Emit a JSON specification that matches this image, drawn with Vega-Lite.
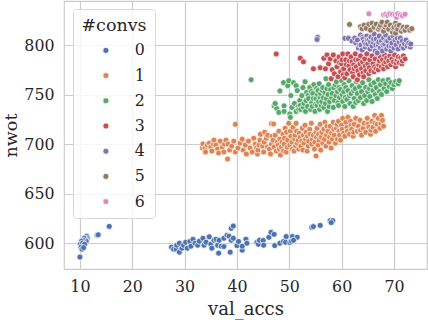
{"$schema":"https://vega.github.io/schema/vega-lite/v6.json","width":363,"height":268,"autosize":"none","padding":{"left":64,"top":1,"right":1,"bottom":51},"background":"white",
"config":{"font":"DejaVu Serif","view":{"stroke":"#cccccc","strokeWidth":1.2}},
"data":{"values":[
{"x":10,"y":586,"c":0},{"x":13.3,"y":608,"c":0},{"x":13.5,"y":608.5,"c":0},{"x":15.6,"y":617,"c":0},{"x":11.3,"y":607,"c":0},{"x":11.4,"y":605,"c":0},{"x":11.1,"y":604,"c":0},{"x":10.8,"y":605,"c":0},{"x":11.2,"y":602,"c":0},{"x":10.6,"y":603,"c":0},{"x":10.3,"y":602,"c":0},{"x":10.1,"y":599,"c":0},{"x":10.5,"y":600,"c":0},{"x":10.9,"y":599,"c":0},{"x":10.2,"y":596,"c":0},{"x":10.4,"y":594,"c":0},{"x":10.7,"y":595.5,"c":0},
{"x":27.5,"y":596,"c":0},{"x":27.9,"y":594,"c":0},{"x":28.4,"y":594,"c":0},{"x":28.5,"y":598,"c":0},{"x":29,"y":600,"c":0},{"x":29,"y":591,"c":0},{"x":29.5,"y":595,"c":0},{"x":29.8,"y":598,"c":0},{"x":30.2,"y":601,"c":0},{"x":30.5,"y":595,"c":0},{"x":31,"y":601.7,"c":0},{"x":31.2,"y":597,"c":0},{"x":31.6,"y":604,"c":0},{"x":32,"y":600,"c":0},{"x":32.5,"y":598,"c":0},{"x":32.8,"y":602,"c":0},{"x":33.5,"y":605,"c":0},{"x":33.7,"y":598,"c":0},{"x":34.1,"y":601,"c":0},{"x":34.7,"y":606.5,"c":0},{"x":35,"y":599,"c":0},{"x":35.2,"y":595,"c":0},{"x":35.6,"y":603,"c":0},{"x":36,"y":604,"c":0},{"x":36.3,"y":598,"c":0},{"x":36.5,"y":590,"c":0},{"x":36.6,"y":603,"c":0},{"x":37,"y":597,"c":0},{"x":37.5,"y":605,"c":0},{"x":37.5,"y":596.6,"c":0},{"x":38.1,"y":608,"c":0},{"x":38.5,"y":607,"c":0},{"x":38.7,"y":591,"c":0},{"x":38.9,"y":603,"c":0},{"x":38.9,"y":615,"c":0},{"x":39.3,"y":617.4,"c":0},{"x":39.3,"y":605,"c":0},{"x":40,"y":597.6,"c":0},{"x":40.3,"y":601.7,"c":0},{"x":41,"y":593,"c":0},{"x":41,"y":597,"c":0},{"x":41.7,"y":604,"c":0},{"x":41.9,"y":600,"c":0},{"x":43.8,"y":600.7,"c":0},{"x":44.1,"y":599,"c":0},{"x":44.3,"y":603,"c":0},{"x":45,"y":602.7,"c":0},{"x":45.1,"y":598,"c":0},{"x":46.1,"y":606,"c":0},{"x":46.5,"y":611,"c":0},{"x":47.1,"y":609,"c":0},{"x":47.2,"y":597.6,"c":0},{"x":48.2,"y":600,"c":0},{"x":48.9,"y":601.7,"c":0},{"x":49.4,"y":606.7,"c":0},{"x":49.3,"y":601,"c":0},{"x":50.1,"y":600.7,"c":0},{"x":50.6,"y":606.7,"c":0},{"x":50.4,"y":602,"c":0},{"x":51.5,"y":606,"c":0},{"x":50.8,"y":603,"c":0},{"x":54.3,"y":616,"c":0},{"x":54.6,"y":616.8,"c":0},{"x":55.9,"y":618,"c":0},{"x":57.8,"y":622.8,"c":0},{"x":58.3,"y":622.8,"c":0},{"x":58,"y":620.8,"c":0},
{"x":39.7,"y":720,"c":1},{"x":46.6,"y":720.5,"c":1},{"x":47,"y":720.3,"c":1},{"x":38.2,"y":685,"c":1},{"x":55.1,"y":688,"c":1},
{"x":33.4,"y":696,"c":1},{"x":33.5,"y":700,"c":1},{"x":33.9,"y":696,"c":1},{"x":34,"y":692,"c":1},{"x":34.3,"y":699,"c":1},{"x":34.7,"y":701,"c":1},{"x":35,"y":697,"c":1},{"x":35.2,"y":693,"c":1},{"x":35.5,"y":700,"c":1},{"x":35.6,"y":704,"c":1},{"x":36,"y":699,"c":1},{"x":36.3,"y":695,"c":1},{"x":36.5,"y":691,"c":1},{"x":36.8,"y":703,"c":1},{"x":37.2,"y":697,"c":1},{"x":37.5,"y":692,"c":1},{"x":37.6,"y":700,"c":1},{"x":37.9,"y":704,"c":1},{"x":38.3,"y":700,"c":1},{"x":38.6,"y":694,"c":1},{"x":39,"y":698,"c":1},{"x":39.4,"y":703,"c":1},{"x":39.7,"y":692,"c":1},{"x":40.2,"y":696,"c":1},{"x":40.6,"y":701,"c":1},{"x":41,"y":705,"c":1},{"x":41.2,"y":694,"c":1},{"x":41.6,"y":699,"c":1},{"x":41.8,"y":690,"c":1},{"x":42.2,"y":703,"c":1},{"x":42.5,"y":696,"c":1},{"x":42.9,"y":692,"c":1},{"x":43.2,"y":706,"c":1},{"x":43.5,"y":700,"c":1},{"x":43.7,"y":696,"c":1},{"x":43.9,"y":690,"c":1},{"x":44,"y":694,"c":1},{"x":44.2,"y":699,"c":1},{"x":44.4,"y":704,"c":1},{"x":44.5,"y":710,"c":1},{"x":44.9,"y":698,"c":1},{"x":45.1,"y":692,"c":1},{"x":45.2,"y":702,"c":1},{"x":45.3,"y":712,"c":1},{"x":45.6,"y":706,"c":1},{"x":45.8,"y":697,"c":1},{"x":45.9,"y":709,"c":1},{"x":46.2,"y":695,"c":1},{"x":46.4,"y":690,"c":1},{"x":46.6,"y":700,"c":1},{"x":46.7,"y":708,"c":1},{"x":46.9,"y":704,"c":1},{"x":47.1,"y":697,"c":1},{"x":47.3,"y":709,"c":1},{"x":47.5,"y":693,"c":1},{"x":47.7,"y":702,"c":1},{"x":47.9,"y":699,"c":1},{"x":48,"y":713,"c":1},{"x":48.1,"y":695,"c":1},{"x":48.2,"y":705,"c":1},{"x":48.3,"y":689,"c":1},{"x":48.5,"y":697,"c":1},{"x":48.6,"y":702,"c":1},{"x":48.8,"y":710,"c":1},{"x":48.9,"y":693,"c":1},{"x":49,"y":700,"c":1},{"x":49.1,"y":706,"c":1},{"x":49.2,"y":716,"c":1},{"x":49.4,"y":692,"c":1},{"x":49.5,"y":712,"c":1},{"x":49.6,"y":697,"c":1},{"x":49.7,"y":704,"c":1},{"x":49.9,"y":721,"c":1},{"x":50.1,"y":699,"c":1},{"x":50.2,"y":713,"c":1},{"x":50.3,"y":708,"c":1},{"x":50.5,"y":702,"c":1},{"x":50.6,"y":695,"c":1},{"x":50.7,"y":717,"c":1},{"x":50.9,"y":693,"c":1},{"x":51,"y":705,"c":1},{"x":51.1,"y":709,"c":1},{"x":51.2,"y":698,"c":1},{"x":51.3,"y":721,"c":1},{"x":51.4,"y":713,"c":1},{"x":51.5,"y":701,"c":1},{"x":51.7,"y":704,"c":1},{"x":51.8,"y":695,"c":1},{"x":51.9,"y":711,"c":1},{"x":52.1,"y":707,"c":1},{"x":52.2,"y":698,"c":1},{"x":52.4,"y":703,"c":1},{"x":52.5,"y":716,"c":1},{"x":52.6,"y":694,"c":1},{"x":52.7,"y":709,"c":1},{"x":52.8,"y":701,"c":1},{"x":53,"y":719,"c":1},{"x":53.1,"y":705,"c":1},{"x":53.2,"y":712,"c":1},{"x":53.4,"y":693,"c":1},{"x":53.5,"y":708,"c":1},{"x":53.6,"y":698,"c":1},{"x":53.7,"y":703,"c":1},{"x":53.9,"y":715,"c":1},{"x":54,"y":710,"c":1},{"x":54.2,"y":721,"c":1},{"x":54.3,"y":700,"c":1},{"x":54.4,"y":705,"c":1},{"x":54.6,"y":709,"c":1},{"x":54.8,"y":695,"c":1},{"x":54.9,"y":702,"c":1},{"x":55.1,"y":712,"c":1},{"x":55.2,"y":707,"c":1},{"x":55.3,"y":716,"c":1},{"x":55.5,"y":699,"c":1},{"x":55.6,"y":710,"c":1},{"x":55.7,"y":704,"c":1},{"x":55.9,"y":720,"c":1},{"x":56,"y":694,"c":1},{"x":56.1,"y":707,"c":1},{"x":56.2,"y":712,"c":1},{"x":56.4,"y":701,"c":1},{"x":56.6,"y":715,"c":1},{"x":56.7,"y":705,"c":1},{"x":56.8,"y":722,"c":1},{"x":57,"y":698,"c":1},{"x":57.1,"y":709,"c":1},{"x":57.2,"y":718,"c":1},{"x":57.4,"y":713,"c":1},{"x":57.6,"y":702,"c":1},{"x":57.7,"y":707,"c":1},{"x":57.8,"y":718,"c":1},{"x":58,"y":696,"c":1},{"x":58.1,"y":711,"c":1},{"x":58.2,"y":705,"c":1},{"x":58.4,"y":722,"c":1},{"x":58.5,"y":715,"c":1},{"x":58.6,"y":709,"c":1},{"x":58.8,"y":701,"c":1},{"x":59,"y":716,"c":1},{"x":59.1,"y":720,"c":1},{"x":59.2,"y":705,"c":1},{"x":59.4,"y":723,"c":1},{"x":59.5,"y":713,"c":1},{"x":59.6,"y":709,"c":1},{"x":59.8,"y":704,"c":1},{"x":60,"y":719,"c":1},{"x":60.1,"y":715,"c":1},{"x":60.2,"y":726,"c":1},{"x":60.4,"y":711,"c":1},{"x":60.6,"y":708,"c":1},{"x":60.8,"y":722,"c":1},{"x":61,"y":717,"c":1},{"x":61.1,"y":713,"c":1},{"x":61.2,"y":727,"c":1},{"x":61.5,"y":710,"c":1},{"x":61.7,"y":723,"c":1},{"x":61.8,"y":719,"c":1},{"x":61.9,"y":715,"c":1},{"x":62.2,"y":708,"c":1},{"x":62.3,"y":712,"c":1},{"x":62.4,"y":720,"c":1},{"x":62.7,"y":726,"c":1},{"x":63,"y":713,"c":1},{"x":63.2,"y":718,"c":1},{"x":63.5,"y":724,"c":1},{"x":63.6,"y":714,"c":1},{"x":63.8,"y":709,"c":1},{"x":64.1,"y":716,"c":1},{"x":64.3,"y":721,"c":1},{"x":64.6,"y":712,"c":1},{"x":64.9,"y":726,"c":1},{"x":65,"y":720,"c":1},{"x":65.2,"y":717,"c":1},{"x":65.5,"y":710,"c":1},{"x":65.6,"y":714,"c":1},{"x":65.8,"y":723,"c":1},{"x":66,"y":717,"c":1},{"x":66.3,"y":729,"c":1},{"x":66.4,"y":721,"c":1},{"x":66.5,"y":713,"c":1},{"x":66.8,"y":720,"c":1},{"x":67,"y":726,"c":1},{"x":67.3,"y":716,"c":1},{"x":67.5,"y":721,"c":1},{"x":67.6,"y":729,"c":1},{"x":67.8,"y":724,"c":1},{"x":68,"y":718,"c":1},
{"x":42.7,"y":765,"c":2},{"x":47.1,"y":738.6,"c":2},{"x":47.6,"y":736,"c":2},{"x":47.3,"y":741,"c":2},{"x":48,"y":732,"c":2},{"x":48.2,"y":753.7,"c":2},{"x":48.9,"y":762,"c":2},{"x":49,"y":738.6,"c":2},{"x":49,"y":733,"c":2},{"x":49.7,"y":759,"c":2},{"x":49.9,"y":764,"c":2},{"x":50.1,"y":730.5,"c":2},{"x":50.2,"y":727,"c":2},{"x":50.3,"y":749,"c":2},{"x":50.5,"y":737,"c":2},{"x":50.8,"y":762,"c":2},{"x":51,"y":741,"c":2},{"x":51.3,"y":759,"c":2},{"x":51.3,"y":733,"c":2},{"x":51.5,"y":754,"c":2},{"x":51.7,"y":738,"c":2},{"x":51.8,"y":735,"c":2},{"x":52,"y":744,"c":2},{"x":52.1,"y":739,"c":2},{"x":52.2,"y":735,"c":2},{"x":52.4,"y":749,"c":2},{"x":52.6,"y":757,"c":2},{"x":52.7,"y":737,"c":2},{"x":52.8,"y":741,"c":2},{"x":53,"y":763,"c":2},{"x":53.1,"y":733,"c":2},{"x":53.2,"y":744,"c":2},{"x":53.3,"y":752,"c":2},{"x":53.5,"y":738,"c":2},{"x":53.6,"y":749,"c":2},{"x":53.7,"y":746,"c":2},{"x":53.9,"y":757,"c":2},{"x":54.1,"y":735,"c":2},{"x":54.2,"y":753,"c":2},{"x":54.3,"y":742,"c":2},{"x":54.4,"y":738,"c":2},{"x":54.5,"y":751,"c":2},{"x":54.6,"y":746,"c":2},{"x":54.7,"y":760,"c":2},{"x":54.9,"y":733,"c":2},{"x":55,"y":740,"c":2},{"x":55.1,"y":746,"c":2},{"x":55.2,"y":756,"c":2},{"x":55.3,"y":739,"c":2},{"x":55.4,"y":750,"c":2},{"x":55.5,"y":754,"c":2},{"x":55.6,"y":743,"c":2},{"x":55.7,"y":761,"c":2},{"x":55.8,"y":735,"c":2},{"x":55.9,"y":747,"c":2},{"x":56,"y":751,"c":2},{"x":56.1,"y":739,"c":2},{"x":56.2,"y":743,"c":2},{"x":56.3,"y":754,"c":2},{"x":56.4,"y":757,"c":2},{"x":56.5,"y":747,"c":2},{"x":56.6,"y":737,"c":2},{"x":56.8,"y":752,"c":2},{"x":56.9,"y":741,"c":2},{"x":57,"y":766,"c":2},{"x":57.1,"y":746,"c":2},{"x":57.2,"y":756,"c":2},{"x":57.3,"y":733,"c":2},{"x":57.4,"y":750,"c":2},{"x":57.5,"y":760,"c":2},{"x":57.6,"y":738,"c":2},{"x":57.7,"y":743,"c":2},{"x":57.9,"y":755,"c":2},{"x":58,"y":766,"c":2},{"x":58.1,"y":747,"c":2},{"x":58.2,"y":751,"c":2},{"x":58.4,"y":737,"c":2},{"x":58.5,"y":757,"c":2},{"x":58.6,"y":744,"c":2},{"x":58.8,"y":760,"c":2},{"x":58.9,"y":749,"c":2},{"x":59,"y":763,"c":2},{"x":59.2,"y":753,"c":2},{"x":59.3,"y":742,"c":2},{"x":59.4,"y":739,"c":2},{"x":59.5,"y":757,"c":2},{"x":59.6,"y":747,"c":2},{"x":59.8,"y":755,"c":2},{"x":60,"y":764,"c":2},{"x":60.1,"y":750,"c":2},{"x":60.2,"y":743,"c":2},{"x":60.4,"y":753,"c":2},{"x":60.5,"y":760,"c":2},{"x":60.6,"y":738,"c":2},{"x":60.7,"y":747,"c":2},{"x":60.8,"y":757,"c":2},{"x":61,"y":745,"c":2},{"x":61.2,"y":754,"c":2},{"x":61.4,"y":764,"c":2},{"x":61.5,"y":749,"c":2},{"x":61.6,"y":741,"c":2},{"x":61.8,"y":751,"c":2},{"x":62,"y":759,"c":2},{"x":62.2,"y":738,"c":2},{"x":62.3,"y":754,"c":2},{"x":62.4,"y":746,"c":2},{"x":62.6,"y":756,"c":2},{"x":62.7,"y":742,"c":2},{"x":62.8,"y":763,"c":2},{"x":63,"y":751,"c":2},{"x":63.2,"y":744,"c":2},{"x":63.4,"y":758,"c":2},{"x":63.6,"y":747,"c":2},{"x":63.8,"y":753,"c":2},{"x":64,"y":762,"c":2},{"x":64.2,"y":741,"c":2},{"x":64.4,"y":749,"c":2},{"x":64.6,"y":757,"c":2},{"x":64.8,"y":744,"c":2},{"x":65,"y":753,"c":2},{"x":65.2,"y":765,"c":2},{"x":65.3,"y":756,"c":2},{"x":65.4,"y":748,"c":2},{"x":65.6,"y":760,"c":2},{"x":65.8,"y":743,"c":2},{"x":66,"y":754,"c":2},{"x":66.2,"y":762,"c":2},{"x":66.4,"y":750,"c":2},{"x":66.6,"y":757,"c":2},{"x":66.8,"y":746,"c":2},{"x":67,"y":765,"c":2},{"x":67.2,"y":753,"c":2},{"x":67.4,"y":760,"c":2},{"x":67.6,"y":750,"c":2},{"x":67.9,"y":764,"c":2},{"x":68.1,"y":756,"c":2},{"x":68.4,"y":761,"c":2},{"x":68.6,"y":753,"c":2},{"x":68.9,"y":765,"c":2},{"x":69.1,"y":758,"c":2},{"x":69.4,"y":762,"c":2},{"x":69.7,"y":756,"c":2},{"x":70,"y":760,"c":2},{"x":70.3,"y":763,"c":2},{"x":70.8,"y":761,"c":2},{"x":71,"y":764,"c":2},
{"x":47.5,"y":791,"c":3},{"x":52.1,"y":786.6,"c":3},{"x":52.7,"y":783,"c":3},{"x":54.6,"y":776,"c":3},{"x":55.9,"y":777,"c":3},{"x":56.9,"y":776,"c":3},{"x":56.6,"y":786.6,"c":3},{"x":57.2,"y":790,"c":3},{"x":57.5,"y":781,"c":3},{"x":57.8,"y":786,"c":3},{"x":58,"y":766,"c":3},{"x":58.2,"y":775,"c":3},{"x":58.4,"y":790,"c":3},{"x":58.6,"y":771,"c":3},{"x":58.9,"y":784,"c":3},{"x":59.1,"y":778,"c":3},{"x":59.3,"y":768,"c":3},{"x":59.5,"y":788,"c":3},{"x":59.6,"y":782,"c":3},{"x":59.8,"y":773,"c":3},{"x":60,"y":781,"c":3},{"x":60.1,"y":785,"c":3},{"x":60.2,"y":791,"c":3},{"x":60.3,"y":770,"c":3},{"x":60.4,"y":776,"c":3},{"x":60.6,"y":767,"c":3},{"x":60.8,"y":785,"c":3},{"x":60.9,"y":780,"c":3},{"x":61,"y":771,"c":3},{"x":61.2,"y":791,"c":3},{"x":61.4,"y":779,"c":3},{"x":61.5,"y":784,"c":3},{"x":61.6,"y":775,"c":3},{"x":61.8,"y":788,"c":3},{"x":62,"y":783,"c":3},{"x":62.1,"y":772,"c":3},{"x":62.2,"y":768,"c":3},{"x":62.3,"y":780,"c":3},{"x":62.4,"y":776,"c":3},{"x":62.6,"y":791,"c":3},{"x":62.7,"y":785,"c":3},{"x":62.8,"y":778,"c":3},{"x":63,"y":765,"c":3},{"x":63.1,"y":774,"c":3},{"x":63.2,"y":785,"c":3},{"x":63.4,"y":770,"c":3},{"x":63.5,"y":781,"c":3},{"x":63.6,"y":789,"c":3},{"x":63.8,"y":776,"c":3},{"x":64,"y":783,"c":3},{"x":64.1,"y":772,"c":3},{"x":64.2,"y":768,"c":3},{"x":64.4,"y":786,"c":3},{"x":64.5,"y":779,"c":3},{"x":64.6,"y":774,"c":3},{"x":64.8,"y":791,"c":3},{"x":65,"y":781,"c":3},{"x":65.2,"y":771,"c":3},{"x":65.3,"y":777,"c":3},{"x":65.4,"y":785,"c":3},{"x":65.6,"y":774,"c":3},{"x":65.8,"y":789,"c":3},{"x":66,"y":781,"c":3},{"x":66.2,"y":773,"c":3},{"x":66.3,"y":778,"c":3},{"x":66.4,"y":786,"c":3},{"x":66.6,"y":776,"c":3},{"x":66.8,"y":791,"c":3},{"x":67,"y":775,"c":3},{"x":67.1,"y":780,"c":3},{"x":67.2,"y":784,"c":3},{"x":67.4,"y":788,"c":3},{"x":67.6,"y":778,"c":3},{"x":67.8,"y":785,"c":3},{"x":68,"y":776,"c":3},{"x":68.1,"y":781,"c":3},{"x":68.2,"y":790,"c":3},{"x":68.4,"y":783,"c":3},{"x":68.6,"y":787,"c":3},{"x":68.8,"y":778,"c":3},{"x":69,"y":784,"c":3},{"x":69.2,"y":789,"c":3},{"x":69.4,"y":780,"c":3},{"x":69.6,"y":786,"c":3},{"x":69.9,"y":783,"c":3},{"x":70.1,"y":790,"c":3},{"x":70.3,"y":778,"c":3},{"x":70.4,"y":782,"c":3},{"x":70.6,"y":785,"c":3},{"x":70.8,"y":788,"c":3},{"x":71,"y":782,"c":3},{"x":71.3,"y":787,"c":3},{"x":71.5,"y":781,"c":3},{"x":71.6,"y":784,"c":3},{"x":71.8,"y":789,"c":3},{"x":72.1,"y":786,"c":3},
{"x":55.4,"y":807.7,"c":4},{"x":55.3,"y":805.5,"c":4},{"x":60.6,"y":806.7,"c":4},{"x":61.3,"y":806.7,"c":4},{"x":62,"y":804,"c":4},{"x":62.5,"y":807,"c":4},{"x":62.7,"y":802,"c":4},{"x":63,"y":805,"c":4},{"x":63.2,"y":797,"c":4},{"x":63.4,"y":800,"c":4},{"x":63.6,"y":810,"c":4},{"x":63.7,"y":800,"c":4},{"x":63.9,"y":795,"c":4},{"x":64,"y":808,"c":4},{"x":64.1,"y":806,"c":4},{"x":64.3,"y":803,"c":4},{"x":64.5,"y":798,"c":4},{"x":64.6,"y":801,"c":4},{"x":64.8,"y":809,"c":4},{"x":64.9,"y":805,"c":4},{"x":65,"y":801,"c":4},{"x":65.2,"y":805,"c":4},{"x":65.4,"y":796,"c":4},{"x":65.5,"y":803,"c":4},{"x":65.6,"y":808,"c":4},{"x":65.8,"y":799,"c":4},{"x":66,"y":803,"c":4},{"x":66.1,"y":806,"c":4},{"x":66.2,"y":811,"c":4},{"x":66.4,"y":794,"c":4},{"x":66.5,"y":800,"c":4},{"x":66.6,"y":806,"c":4},{"x":66.8,"y":792,"c":4},{"x":67,"y":800,"c":4},{"x":67.1,"y":803,"c":4},{"x":67.2,"y":809,"c":4},{"x":67.4,"y":797,"c":4},{"x":67.6,"y":804,"c":4},{"x":67.8,"y":794,"c":4},{"x":67.9,"y":800,"c":4},{"x":68,"y":807,"c":4},{"x":68.2,"y":801,"c":4},{"x":68.4,"y":810,"c":4},{"x":68.5,"y":804,"c":4},{"x":68.6,"y":796,"c":4},{"x":68.8,"y":804,"c":4},{"x":69,"y":799,"c":4},{"x":69.2,"y":807,"c":4},{"x":69.4,"y":794,"c":4},{"x":69.5,"y":799,"c":4},{"x":69.6,"y":802,"c":4},{"x":69.8,"y":809,"c":4},{"x":70,"y":797,"c":4},{"x":70.2,"y":805,"c":4},{"x":70.4,"y":800,"c":4},{"x":70.6,"y":807,"c":4},{"x":70.8,"y":796,"c":4},{"x":71,"y":803,"c":4},{"x":71.2,"y":807,"c":4},{"x":71.4,"y":799,"c":4},{"x":71.6,"y":804,"c":4},{"x":71.8,"y":797,"c":4},{"x":72,"y":801,"c":4},{"x":72.3,"y":805,"c":4},{"x":72.5,"y":799,"c":4},{"x":72.8,"y":802,"c":4},{"x":73.1,"y":798,"c":4},{"x":73.2,"y":801,"c":4},
{"x":61.5,"y":820.8,"c":5},{"x":63.6,"y":818.5,"c":5},{"x":63.9,"y":816.5,"c":5},{"x":64.3,"y":820,"c":5},{"x":64.7,"y":817,"c":5},{"x":65.2,"y":821,"c":5},{"x":65.5,"y":815,"c":5},{"x":65.8,"y":822,"c":5},{"x":66.2,"y":818,"c":5},{"x":66.6,"y":821,"c":5},{"x":67,"y":816,"c":5},{"x":67.2,"y":818,"c":5},{"x":67.4,"y":820,"c":5},{"x":67.7,"y":823,"c":5},{"x":68,"y":814,"c":5},{"x":68.3,"y":818,"c":5},{"x":68.5,"y":820,"c":5},{"x":68.7,"y":823,"c":5},{"x":69,"y":816,"c":5},{"x":69.3,"y":820,"c":5},{"x":69.7,"y":813,"c":5},{"x":69.8,"y":817,"c":5},{"x":70,"y":818,"c":5},{"x":70.3,"y":822,"c":5},{"x":70.3,"y":812,"c":5},{"x":70.5,"y":819,"c":5},{"x":70.7,"y":816,"c":5},{"x":71,"y":820,"c":5},{"x":71.4,"y":814,"c":5},{"x":71.6,"y":817,"c":5},{"x":71.8,"y":818,"c":5},{"x":72.1,"y":815,"c":5},{"x":72.5,"y":818,"c":5},{"x":73,"y":815,"c":5},{"x":73.4,"y":816.5,"c":5},
{"x":65.2,"y":831.5,"c":6},{"x":68,"y":830.5,"c":6},{"x":68.4,"y":831,"c":6},{"x":68.8,"y":830,"c":6},{"x":69.2,"y":831.5,"c":6},{"x":69.7,"y":831,"c":6},{"x":70.2,"y":830,"c":6},{"x":70.5,"y":828,"c":6},{"x":70.7,"y":831.5,"c":6},{"x":71.2,"y":830.5,"c":6},{"x":71.6,"y":829.5,"c":6},{"x":72.1,"y":831,"c":6}
]},
"mark":{"type":"point","filled":true,"opacity":1,"stroke":"white","strokeWidth":0.7,"size":36},
"encoding":{
"x":{"field":"x","type":"quantitative","title":"val_accs","scale":{"domain":[6.96,76.3],"nice":false,"zero":false},
"axis":{"values":[10,20,30,40,50,60,70],"grid":true,"gridColor":"#cccccc","gridWidth":1.2,"domain":false,"ticks":false,"labelFontSize":15.8,"labelColor":"#262626","labelPadding":10,"titleFontSize":18,"titleColor":"#262626","titleFontWeight":"normal","titlePadding":7}},
"y":{"field":"y","type":"quantitative","title":"nwot","scale":{"domain":[574,844.4],"nice":false,"zero":false},
"axis":{"values":[600,650,700,750,800],"grid":true,"gridColor":"#cccccc","gridWidth":1.2,"domain":false,"ticks":false,"labelFontSize":15.8,"labelColor":"#262626","labelPadding":10,"titleFontSize":17.5,"titleColor":"#262626","titleFontWeight":"normal","titlePadding":3}},
"color":{"field":"c","type":"nominal","title":"#convs","scale":{"domain":[0,1,2,3,4,5,6],"range":["#4c72b0","#dd8452","#55a868","#c44e52","#8172b3","#937860","#da8bc3"]},
"legend":{"orient":"none","legendX":9,"legendY":8,"fillColor":"rgba(255,255,255,0.8)","strokeColor":"#d8d8d8","cornerRadius":3,"padding":8,"titleFontSize":17.5,"titleFontWeight":"normal","titleColor":"#262626","titleAnchor":"middle","titlePadding":8,"labelFontSize":15.8,"labelColor":"#262626","labelOffset":21,"symbolOffset":14,"symbolSize":36,"symbolType":"circle","rowPadding":8.2,"symbolStrokeColor":"white","symbolStrokeWidth":0.7,"columnPadding":0}}
},
"order":{"field":"c","type":"quantitative"}
}
